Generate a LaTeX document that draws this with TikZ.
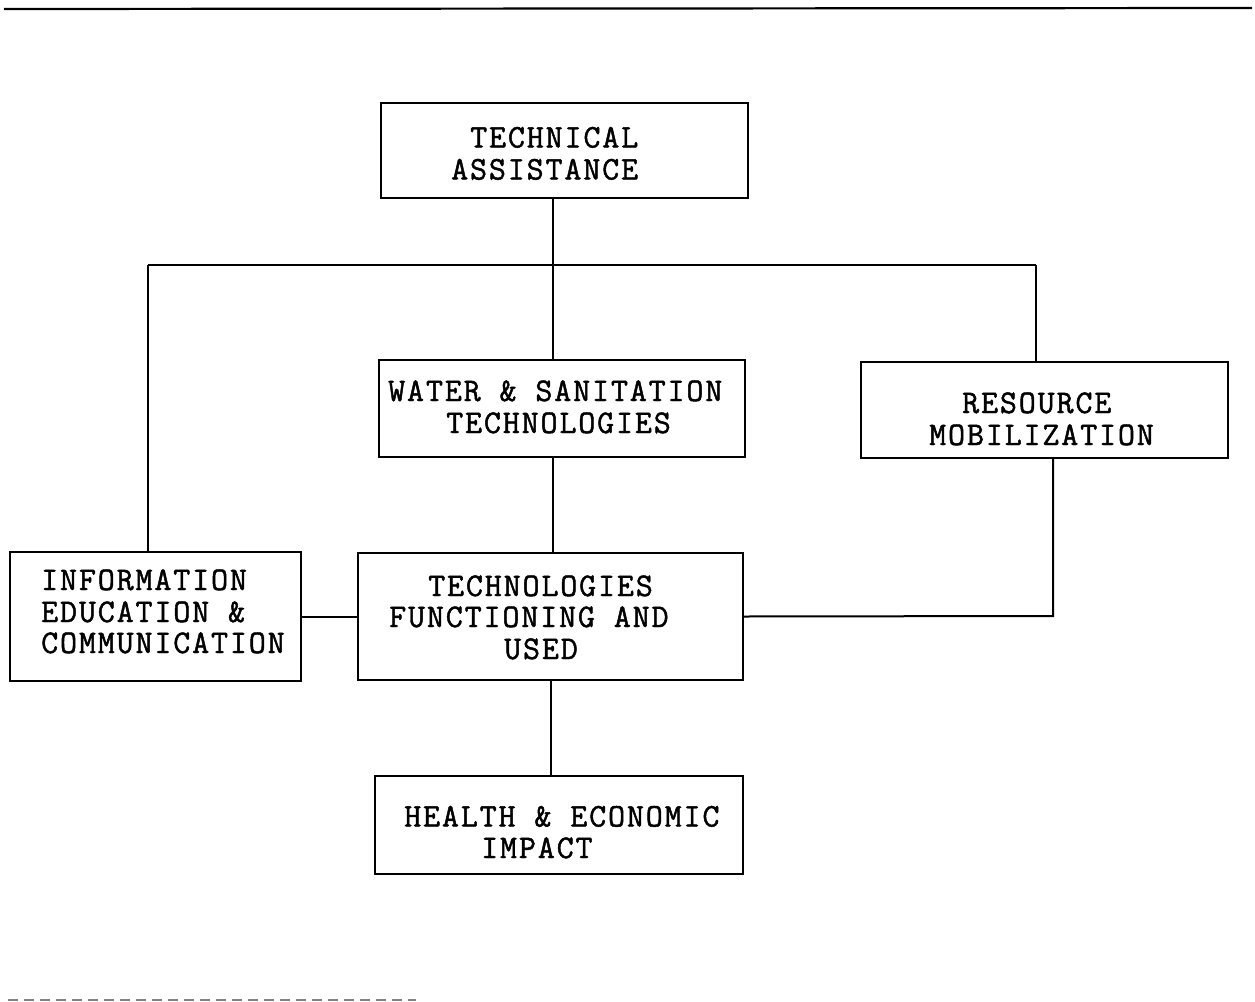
\documentclass[tikz,border=0pt]{standalone}
\usepackage{fontspec}
\newfontfamily\twfont{Latin Modern Mono}[FakeBold=1.4, LetterSpace=5.7]
\begin{document}
\begin{tikzpicture}[x=1pt,y=-1pt,
  box/.style={draw=black, line width=2pt, rectangle, inner sep=0pt},
  lbl/.style={anchor=base west, inner sep=0pt, font=\fontsize{33}{32}\selectfont\twfont},
  wire/.style={draw=black, line width=2pt}]
\useasboundingbox (0,0) rectangle (1255,1001);
% frame rules
\coordinate (tl) at (4,9);
\coordinate (tr) at (1252,8);
\draw[line width=2.2pt] (tl) -- (tr);
\coordinate (bl) at (8,999.5);
\coordinate (br) at (416,999.5);
\draw[line width=2pt, gray, dash pattern=on 10pt off 6pt] (bl) -- (br);
% boxes
\node[box, minimum width=367pt, minimum height=95pt] (ta) at (564.5,150.5) {};
\node[box, minimum width=366pt, minimum height=97pt] (ws) at (562,408.5) {};
\node[box, minimum width=367pt, minimum height=96pt] (rm) at (1044.5,410) {};
\node[box, minimum width=291pt, minimum height=129pt] (iec) at (155.5,616.5) {};
\node[box, minimum width=385pt, minimum height=127pt] (tf) at (550.5,616.5) {};
\node[box, minimum width=368pt, minimum height=98pt] (he) at (559,825) {};
% labels
\node[lbl] (ta1) at (470,147.5) {TECHNICAL};
\node[lbl] (ta2) at (451,179.5) {ASSISTANCE};
\node[lbl] (ws1) at (388,401) {WATER \& SANITATION};
\node[lbl] (ws2) at (446,433) {TECHNOLOGIES};
\node[lbl] (rm1) at (962,413) {RESOURCE};
\node[lbl] (rm2) at (929,445) {MOBILIZATION};
\node[lbl] (iec1) at (41,590) {INFORMATION};
\node[lbl] (iec2) at (41,622) {EDUCATION \&};
\node[lbl] (iec3) at (41,653) {COMMUNICATION};
\node[lbl] (tf1) at (428,596) {TECHNOLOGIES};
\node[lbl] (tf2) at (389,627) {FUNCTIONING AND};
\node[lbl] (tf3) at (504,659) {USED};
\node[lbl] (he1) at (404,826.5) {HEALTH \& ECONOMIC};
\node[lbl] (he2) at (481,858) {IMPACT};
% connectors
\coordinate (jc) at (553,265);
\coordinate (jl) at (148,265);
\coordinate (jr) at (1036,265);
\coordinate (jrm) at (1053,616);
\draw[wire] (ta.south -| jc) -- (ws.north -| jc);
\draw[wire] (jl) -- (jr);
\draw[wire] (jl) -- (iec.north -| jl);
\draw[wire] (jr) -- (rm.north -| jr);
\draw[wire] (ws.south -| jc) -- (tf.north -| jc);
\draw[wire] (tf.west) -- (iec.east);
\draw[wire] (tf.east) -- (jrm) -- (rm.south -| jrm);
\draw[wire] (tf.south) -- (he.north -| tf.south);
\end{tikzpicture}
\end{document}
